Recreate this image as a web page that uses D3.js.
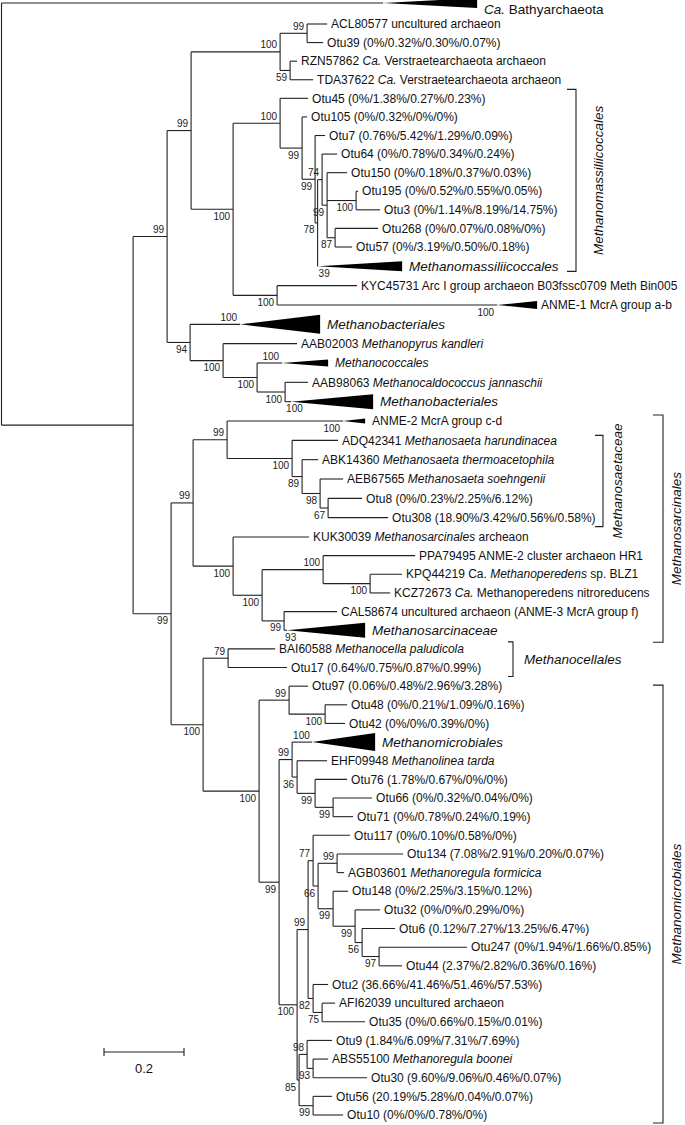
<!DOCTYPE html>
<meta charset="utf-8">
<style>
    body {
        margin: 0;
        background: #fff;
    }

    svg {
        display: block;
        font-family: "Liberation Sans", Arial, sans-serif;
    }

    .branch {
        stroke: #222;
        stroke-width: 1.1px;
        fill: none;
    }

    .tri {
        fill: #000;
    }

    .tip {
        font-size: 12px;
        fill: #111;
    }

    .boot {
        font-size: 10px;
        fill: #222;
    }

    .group {
        font-size: 13.5px;
        font-style: italic;
        fill: #111;
    }
</style>

<body>
    <script src="https://d3js.org/d3.v7.min.js"></script>
    <script>
        // [node, parent, branch length, bootstrap]
        var branches = [
            ["root", null, 0, null],
            ["bathy", "root", 0.954, null],
            ["A", "root", 0.329, null],
            ["B", "A", 0.085, 99],
            ["C", "B", 0.060, 99],
            ["D", "C", 0.2225, 100],
            ["F", "D", 0.0675, 99],
            ["ACL80577", "F", 0.050, null],
            ["Otu39", "F", 0.040, null],
            ["G", "D", 0.025, 59],
            ["RZN57862", "G", 0.0175, null],
            ["TDA37622", "G", 0.0575, null],
            ["E", "C", 0.105, 100],
            ["H", "E", 0.1175, 100],
            ["Otu45", "H", 0.070, null],
            ["J", "H", 0.055, 99],
            ["Otu105", "J", 0.0125, null],
            ["M", "J", 0.0325, 99],
            ["Otu7", "M", 0.025, null],
            ["X", "M", 0.00625, 78],
            ["Y", "X", 0.01125, 74],
            ["Otu64", "Y", 0.0375, null],
            ["Z", "Y", 0.0125, 99],
            ["Otu150", "Z", 0.05, null],
            ["P", "Z", 0.0725, 100],
            ["Otu195", "P", 0.005, null],
            ["Otu3", "P", 0.06, null],
            ["Q", "Z", 0.02, 87],
            ["Otu268", "Q", 0.1075, null],
            ["Otu57", "Q", 0.0425, null],
            ["mmass", "X", 0.00125, 39],
            ["I", "E", 0.11, 100],
            ["KYC45731", "I", 0.2, null],
            ["anme1", "I", 0.55, 100],
            ["L", "B", 0.0575, 94],
            ["mbact1", "L", 0.125, 100],
            ["O", "L", 0.0825, 100],
            ["AAB02003", "O", 0.185, null],
            ["Q2", "O", 0.085, 100],
            ["mcocc", "Q2", 0.0625, 100],
            ["S2", "Q2", 0.07, 100],
            ["AAB98063", "S2", 0.0575, null],
            ["mbact2", "S2", 0.015, 100],
            ["K", "A", 0.095, 99],
            ["T1", "K", 0.055, 99],
            ["V", "T1", 0.085, 99],
            ["anme2", "V", 0.29, 100],
            ["W", "V", 0.1625, 100],
            ["ADQ42341", "W", 0.115, null],
            ["X2", "W", 0.025, 89],
            ["ABK14360", "X2", 0.04, null],
            ["Y2", "X2", 0.045, 98],
            ["AEB67565", "Y2", 0.0575, null],
            ["Z2", "Y2", 0.02, 67],
            ["Otu8", "Z2", 0.085, null],
            ["Otu308", "Z2", 0.15, null],
            ["AA", "T1", 0.1, 100],
            ["KUK30039", "AA", 0.19, null],
            ["BB", "AA", 0.0725, 100],
            ["CC", "BB", 0.1525, 100],
            ["PPA79495", "CC", 0.23, null],
            ["EE", "CC", 0.1175, 100],
            ["KPQ44219", "EE", 0.08, null],
            ["KCZ72673", "EE", 0.05, null],
            ["DD", "BB", 0.055, 99],
            ["CAL58674", "DD", 0.1325, null],
            ["msarc", "DD", 0.0075, 93],
            ["U", "K", 0.08, 100],
            ["FF", "U", 0.0625, 79],
            ["BAI60588", "FF", 0.1175, null],
            ["Otu17", "FF", 0.1475, null],
            ["GG", "U", 0.14, 100],
            ["HH", "GG", 0.075, 99],
            ["Otu97", "HH", 0.0475, null],
            ["JJ", "HH", 0.09, 100],
            ["Otu48", "JJ", 0.055, null],
            ["Otu42", "JJ", 0.05, null],
            ["II", "GG", 0.05, 99],
            ["KK", "II", 0.0325, 99],
            ["mmicro", "KK", 0.05, 100],
            ["NN", "KK", 0.0125, 36],
            ["EHF09948", "NN", 0.075, null],
            ["OO", "NN", 0.045, 99],
            ["Otu76", "OO", 0.08, null],
            ["PP", "OO", 0.045, 99],
            ["Otu66", "PP", 0.0975, null],
            ["Otu71", "PP", 0.05, null],
            ["LL", "II", 0.045, 100],
            ["QQ", "LL", 0.0275, 99],
            ["SS", "QQ", 0.0125, 77],
            ["Otu117", "SS", 0.0925, null],
            ["UU", "SS", 0.0125, 66],
            ["TT", "UU", 0.0475, 99],
            ["Otu134", "TT", 0.165, null],
            ["AGB03601", "TT", 0.0175, null],
            ["VV", "UU", 0.0375, 99],
            ["Otu148", "VV", 0.0375, null],
            ["WW", "VV", 0.055, 99],
            ["Otu32", "WW", 0.0625, null],
            ["XX", "WW", 0.0175, 56],
            ["Otu6", "XX", 0.0825, null],
            ["YY", "XX", 0.0425, 97],
            ["Otu247", "YY", 0.22, null],
            ["Otu44", "YY", 0.0575, null],
            ["ZZ", "QQ", 0.0125, 82],
            ["Otu2", "ZZ", 0.0375, null],
            ["AAA", "ZZ", 0.0225, 75],
            ["AFI62039", "AAA", 0.0325, null],
            ["Otu35", "AAA", 0.1075, null],
            ["RR", "LL", 0.005, 85],
            ["BBB", "RR", 0.02, 98],
            ["Otu9", "BBB", 0.0625, null],
            ["DDD", "BBB", 0.015, 93],
            ["ABS55100", "DDD", 0.0375, null],
            ["Otu30", "DDD", 0.135, null],
            ["CCC", "RR", 0.035, 99],
            ["Otu56", "CCC", 0.0475, null],
            ["Otu10", "CCC", 0.075, null]
        ];

        // tip labels, *...* = italic
        var tipLabels = {
            "bathy": "*Ca.* Bathyarchaeota",
            "ACL80577": "ACL80577 uncultured archaeon",
            "Otu39": "Otu39 (0%/0.32%/0.30%/0.07%)",
            "RZN57862": "RZN57862 *Ca.* Verstraetearchaeota archaeon",
            "TDA37622": "TDA37622 *Ca.* Verstraetearchaeota archaeon",
            "Otu45": "Otu45 (0%/1.38%/0.27%/0.23%)",
            "Otu105": "Otu105 (0%/0.32%/0%/0%)",
            "Otu7": "Otu7 (0.76%/5.42%/1.29%/0.09%)",
            "Otu64": "Otu64 (0%/0.78%/0.34%/0.24%)",
            "Otu150": "Otu150 (0%/0.18%/0.37%/0.03%)",
            "Otu195": "Otu195 (0%/0.52%/0.55%/0.05%)",
            "Otu3": "Otu3 (0%/1.14%/8.19%/14.75%)",
            "Otu268": "Otu268 (0%/0.07%/0.08%/0%)",
            "Otu57": "Otu57 (0%/3.19%/0.50%/0.18%)",
            "mmass": "*Methanomassiliicoccales*",
            "KYC45731": "KYC45731 Arc I group archaeon B03fssc0709 Meth Bin005",
            "anme1": "ANME-1 McrA group a-b",
            "mbact1": "*Methanobacteriales*",
            "AAB02003": "AAB02003 *Methanopyrus kandleri*",
            "mcocc": "*Methanococcales*",
            "AAB98063": "AAB98063 *Methanocaldococcus jannaschii*",
            "mbact2": "*Methanobacteriales*",
            "anme2": "ANME-2 McrA group c-d",
            "ADQ42341": "ADQ42341 *Methanosaeta harundinacea*",
            "ABK14360": "ABK14360 *Methanosaeta thermoacetophila*",
            "AEB67565": "AEB67565 *Methanosaeta soehngenii*",
            "Otu8": "Otu8 (0%/0.23%/2.25%/6.12%)",
            "Otu308": "Otu308 (18.90%/3.42%/0.56%/0.58%)",
            "KUK30039": "KUK30039 *Methanosarcinales* archeaon",
            "PPA79495": "PPA79495 ANME-2 cluster archaeon HR1",
            "KPQ44219": "KPQ44219 Ca. *Methanoperedens* sp. BLZ1",
            "KCZ72673": "KCZ72673 *Ca.* Methanoperedens nitroreducens",
            "CAL58674": "CAL58674 uncultured archaeon (ANME-3 McrA group f)",
            "msarc": "*Methanosarcinaceae*",
            "BAI60588": "BAI60588 *Methanocella paludicola*",
            "Otu17": "Otu17 (0.64%/0.75%/0.87%/0.99%)",
            "Otu97": "Otu97 (0.06%/0.48%/2.96%/3.28%)",
            "Otu48": "Otu48 (0%/0.21%/1.09%/0.16%)",
            "Otu42": "Otu42 (0%/0%/0.39%/0%)",
            "mmicro": "*Methanomicrobiales*",
            "EHF09948": "EHF09948 *Methanolinea tarda*",
            "Otu76": "Otu76 (1.78%/0.67%/0%/0%)",
            "Otu66": "Otu66 (0%/0.32%/0.04%/0%)",
            "Otu71": "Otu71 (0%/0.78%/0.24%/0.19%)",
            "Otu117": "Otu117 (0%/0.10%/0.58%/0%)",
            "Otu134": "Otu134 (7.08%/2.91%/0.20%/0.07%)",
            "AGB03601": "AGB03601 *Methanoregula formicica*",
            "Otu148": "Otu148 (0%/2.25%/3.15%/0.12%)",
            "Otu32": "Otu32 (0%/0%/0.29%/0%)",
            "Otu6": "Otu6 (0.12%/7.27%/13.25%/6.47%)",
            "Otu247": "Otu247 (0%/1.94%/1.66%/0.85%)",
            "Otu44": "Otu44 (2.37%/2.82%/0.36%/0.16%)",
            "Otu2": "Otu2 (36.66%/41.46%/51.46%/57.53%)",
            "AFI62039": "AFI62039 uncultured archaeon",
            "Otu35": "Otu35 (0%/0.66%/0.15%/0.01%)",
            "Otu9": "Otu9 (1.84%/6.09%/7.31%/7.69%)",
            "ABS55100": "ABS55100 *Methanoregula boonei*",
            "Otu30": "Otu30 (9.60%/9.06%/0.46%/0.07%)",
            "Otu56": "Otu56 (20.19%/5.28%/0.04%/0.07%)",
            "Otu10": "Otu10 (0%/0%/0.78%/0%)"
        };

        // collapsed subtrees: [node, depth of the clade]
        var collapsed = [
            ["bathy", 0.235],
            ["mmass", 0.21],
            ["anme1", 0.1],
            ["mbact1", 0.2],
            ["mcocc", 0.115],
            ["mbact2", 0.205],
            ["anme2", 0.055],
            ["msarc", 0.195],
            ["mmicro", 0.1575]
        ];

        // order brackets: [name, first tip, last tip]
        var orders = [
            ["Methanomassiliicoccales", "Otu45", "mmass"],
            ["Methanosaetaceae", "ADQ42341", "Otu308"],
            ["Methanosarcinales", "anme2", "msarc"],
            ["Methanocellales", "BAI60588", "Otu17"],
            ["Methanomicrobiales", "Otu97", "Otu10"]
        ];

        var scaleBarValue = 0.2;

        // ---- layout ----
        var width = 685,
            height = 1125;

        var triHalf = { bathy: 5, mmass: 5, anme1: 4, mbact1: 9.5, mcocc: 3.5, mbact2: 7.5, anme2: 2.5, msarc: 7.5, mmicro: 9 };
        var triGap = { anme1: 4 };
        var labelShift = { bathy: 6 };
        var bigTri = ["bathy", "mmass", "mbact1", "mbact2", "msarc", "mmicro"];
        var bootBelow = ["anme2"];
        var bracketLayout = {
            "Methanomassiliicoccales": { x: 576, tick: 9, tx: 603, rotate: true, padTop: 9, padBot: 5 },
            "Methanosaetaceae": { x: 603, tick: 8, tx: 622, rotate: true, padTop: 5, padBot: 9 },
            "Methanosarcinales": { x: 663, tick: 10, tx: 681, rotate: true, padTop: 6, padBot: 12 },
            "Methanocellales": { x: 513, tick: 5, tx: 524, rotate: false, padTop: 7, padBot: 9 },
            "Methanomicrobiales": { x: 663, tick: 10, tx: 681, rotate: true, padTop: 1, padBot: 8 }
        };

        var x = d3.scaleLinear().domain([0, 1]).range([1.5, 401.5]);
        var y = d3.scaleLinear().domain([0, 1, 13, 28, 59]).range([3, 24, 247, 537, 1115]);

        var svg = d3.select("body").append("svg")
            .attr("width", width)
            .attr("height", height);

        var root = d3.stratify()
            .id(function (d) { return d[0]; })
            .parentId(function (d) { return d[1]; })(branches);

        root.eachBefore(function (n) {
            n.dist = (n.parent ? n.parent.dist : 0) + n.data[2];
            n.px = x(n.dist);
        });
        root.leaves().forEach(function (n, i) { n.py = y(i); });
        root.eachAfter(function (n) {
            if (n.children) n.py = (n.children[0].py + n.children[n.children.length - 1].py) / 2;
        });

        var byId = {};
        root.each(function (n) { byId[n.id] = n; });
        var cDepth = new Map(collapsed);

        function rich(sel, str) {
            str.split("*").forEach(function (part, i) {
                if (!part) return;
                sel.append("tspan")
                    .style("font-style", i % 2 ? "italic" : "normal")
                    .text(part);
            });
        }

        // horizontal branches
        svg.append("g").selectAll("path.h")
            .data(root.descendants().filter(function (n) { return n.parent; }))
            .enter().append("path")
            .attr("class", "branch")
            .attr("d", function (n) { return "M" + n.parent.px + "," + n.py + "H" + n.px; });

        // vertical connectors
        svg.append("g").selectAll("path.v")
            .data(root.descendants().filter(function (n) { return n.children; }))
            .enter().append("path")
            .attr("class", "branch")
            .attr("d", function (n) {
                var c = n.children;
                return "M" + n.px + "," + c[0].py + "V" + c[c.length - 1].py;
            });

        // collapsed triangles
        svg.append("g").selectAll("path")
            .data(collapsed)
            .enter().append("path")
            .attr("class", "tri")
            .attr("d", function (d) {
                var n = byId[d[0]], bx = x(n.dist + d[1]), h = triHalf[d[0]];
                return "M" + n.px + "," + n.py + "L" + bx + "," + (n.py - h) + "L" + bx + "," + (n.py + h) + "Z";
            });

        // tip labels
        root.leaves().forEach(function (n) {
            var isTri = cDepth.has(n.id);
            var gap = triGap[n.id] || 7;
            var t = svg.append("text")
                .attr("class", isTri ? "group" : "tip")
                .attr("x", isTri ? x(n.dist + cDepth.get(n.id)) + gap : n.px + 4)
                .attr("y", n.py + (labelShift[n.id] || 0))
                .attr("dy", "0.35em");
            if (isTri && bigTri.indexOf(n.id) < 0) t.style("font-size", "12px");
            rich(t, tipLabels[n.id]);
        });

        // bootstrap values
        svg.append("g").selectAll("text")
            .data(root.descendants().filter(function (n) { return n.parent && n.data[3] != null; }))
            .enter().append("text")
            .attr("class", "boot")
            .each(function (n) {
                var s = String(n.data[3]);
                var first = n.parent.children[0] === n;
                var below = !first || bootBelow.indexOf(n.id) >= 0;
                var tight = cDepth.has(n.id) && (n.px - n.parent.px) < s.length * 5.6 + 4;
                d3.select(this)
                    .attr("x", tight ? n.parent.px + 1 : n.px - 3)
                    .attr("y", below ? n.py + 10.5 : n.py - 3.5)
                    .attr("text-anchor", tight ? "start" : "end")
                    .text(s);
            });

        // order brackets
        orders.forEach(function (d) {
            var L = bracketLayout[d[0]];
            var y0 = byId[d[1]].py - L.padTop,
                y1 = byId[d[2]].py + L.padBot;
            svg.append("path")
                .attr("class", "branch")
                .attr("d", "M" + (L.x - L.tick) + "," + y0 + "H" + L.x + "V" + y1 + "H" + (L.x - L.tick));
            var t = svg.append("text").attr("class", "group").text(d[0]);
            if (L.rotate) {
                t.attr("text-anchor", "middle")
                    .attr("transform", "translate(" + L.tx + "," + (y0 + y1) / 2 + ") rotate(-90)");
            } else {
                t.attr("x", L.tx).attr("y", (y0 + y1) / 2).attr("dy", "0.35em");
            }
        });

        // scale bar
        var sbx = 104, sby = 1052, sbw = x(scaleBarValue) - x(0);
        svg.append("path")
            .attr("class", "branch")
            .attr("d", "M" + sbx + "," + (sby - 4) + "V" + (sby + 4) + "M" + sbx + "," + sby + "H" + (sbx + sbw) +
                "M" + (sbx + sbw) + "," + (sby - 4) + "V" + (sby + 4));
        svg.append("text")
            .attr("x", sbx + sbw / 2)
            .attr("y", sby + 21)
            .attr("text-anchor", "middle")
            .style("font-size", "13px")
            .style("fill", "#111")
            .text(String(scaleBarValue));
    </script>
</body>
